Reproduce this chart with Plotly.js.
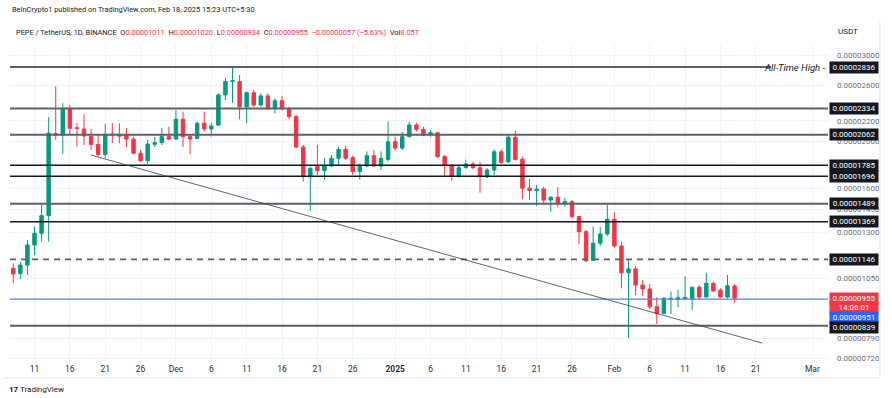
<!DOCTYPE html>
<html><head><meta charset="utf-8">
<script src="https://cdn.plot.ly/plotly-3.0.1.min.js"></script>
<style>html,body{margin:0;padding:0;background:#fff}#chart{width:892px;height:398px}</style>
</head><body><div id="chart"></div>
<script>
// Prices in units of 1e-8 USDT, daily candles starting 2024-11-08
const startDate = '2024-11-08';
const openP = [1099,1073,1116,1227,1296,1408,2073,2059,2333,2130,2118,2045,1969,1878,2068,2059,2059,2019,1890,1824,1971,1986,2043,2020,2217,2043,2026,2176,2118,2158,2486,2648,2648,2352,2513,2371,2475,2333,2420,2333,2245,1945,1692,1774,1741,1779,1845,1924,1851,1733,1779,1868,1779,1836,1995,1936,2043,2158,2115,2068,2080,1859,1784,1693,1765,1796,1765,1690,1746,1902,1815,2037,1836,1603,1585,1596,1516,1536,1492,1504,1402,1306,1141,1237,1292,1385,1221,1076,1096,1016,997,917,888,950,950,952,950,1005,960,1024,992,960,1011];
const highP = [1125,1134,1256,1337,1481,2240,2590,2390,2371,2175,2270,2118,2059,2168,2178,2175,2128,2043,1918,2011,2040,2128,2141,2316,2298,2059,2195,2298,2182,2506,2698,2827,2731,2525,2545,2506,2506,2447,2475,2352,2262,1964,1774,1964,1845,1874,1948,1955,1868,1802,1906,1918,1906,2195,2043,2091,2195,2182,2141,2108,2091,1874,1796,1788,1833,1815,1815,1763,1924,1924,2059,2101,1859,1674,1627,1614,1545,1610,1530,1516,1406,1316,1338,1334,1481,1431,1246,1147,1111,1040,1021,959,960,985,995,1060,1008,1016,1077,1032,1000,1065,1020];
const lowP = [1024,1045,1065,1170,1246,1246,2011,1883,2059,1948,1964,1918,1859,1845,1983,1980,1945,1880,1815,1796,1945,1964,2011,2011,1948,1880,2020,2091,2043,2148,2428,2396,2217,2176,2352,2352,2316,2280,2308,2217,1936,1653,1442,1705,1666,1774,1788,1830,1705,1668,1768,1774,1746,1815,1912,1918,2037,2091,2050,2043,1850,1697,1660,1685,1760,1753,1568,1681,1705,1796,1802,1824,1521,1516,1474,1497,1435,1464,1469,1391,1233,1132,1137,1221,1280,1208,1000,791,969,965,906,846,886,886,915,947,903,947,959,984,959,954,934];
const closeP = [1070,1116,1227,1296,1408,2077,2059,2333,2125,2125,2050,1969,1878,2064,2059,2050,2019,1890,1824,1973,1986,2043,2020,2217,2043,2020,2176,2118,2148,2486,2648,2657,2352,2513,2371,2475,2333,2420,2333,2245,1945,1692,1760,1741,1779,1845,1924,1845,1733,1779,1868,1779,1845,1995,1936,2043,2158,2115,2059,2080,1859,1784,1693,1765,1796,1765,1692,1746,1902,1808,2037,1836,1603,1585,1596,1516,1536,1492,1504,1402,1306,1139,1237,1292,1385,1221,1076,1096,1016,997,917,888,954,954,957,958,1005,960,1024,988,960,1012,955];

// Horizontal levels (units of 1e-8)
const grayLevels = [2836, 2334, 2062, 1489, 839];
const blackLevels = [1785, 1696, 1369];
const dashedLevel = 1146;
const blueLevel = 951;
const athLevel = 2836;
const boxedLevels = [2836, 2334, 2062, 1785, 1696, 1489, 1369, 1146];
// Trendline drawing anchors
const trendX = ['2024-11-18 23:00', '2025-02-21 22:00'];
const trendY = [1874, 773];
// Axis ticks
const yTicks = [3000, 2600, 2200, 2000, 1600, 1450, 1300, 1050, 790, 720];
const xTickDates = ['2024-11-11','2024-11-16','2024-11-21','2024-11-26','2024-12-01','2024-12-06','2024-12-11','2024-12-16','2024-12-21','2024-12-26','2025-01-01','2025-01-06','2025-01-11','2025-01-16','2025-01-21','2025-01-26','2025-02-01','2025-02-06','2025-02-11','2025-02-16','2025-02-21','2025-03-01'];
const xTickText = ['11','16','21','26','Dec','6','11','16','21','26','<b>2025</b>','6','11','16','21','26','Feb','6','11','16','21','Mar'];
const volumeText = '8.05T';
const countdown = '14:06:01';

const S = 1e-8;
const sc = a => a.map(v => v * S);
const fmt = v => (v * S).toFixed(8);
const dates = [];
{
  const d0 = new Date(startDate + 'T00:00:00Z');
  for (let i = 0; i < openP.length; i++) {
    const d = new Date(d0.getTime() + i * 86400000);
    dates.push(d.toISOString().slice(0, 10));
  }
}
const xLeft = '2024-11-07 12:48', xRight = '2025-03-03 05:00', athEnd = '2025-02-23 04:00';
const RED = '#f23645', GREEN = '#089981';
const FONT = 'Roboto, Liberation Sans, sans-serif';

const traces = [{
  type: 'candlestick', x: dates,
  open: sc(openP), high: sc(highP), low: sc(lowP), close: sc(closeP),
  increasing: {line: {color: GREEN, width: 1}, fillcolor: GREEN},
  decreasing: {line: {color: RED, width: 1}, fillcolor: RED},
  whiskerwidth: 0, hoverinfo: 'skip', showlegend: false
}];
const hline = (lvl, color, width, dash, x1) => ({
  type: 'scatter', mode: 'lines', x: [xLeft, x1 || xRight], y: [lvl * S, lvl * S],
  line: {color: color, width: width, dash: dash || 'solid'}, hoverinfo: 'skip', showlegend: false
});
grayLevels.forEach(l => traces.push(hline(l, '#5d606b', 2, 'solid', l === athLevel ? athEnd : null)));
blackLevels.forEach(l => traces.push(hline(l, '#131722', 1.5)));
traces.push(hline(dashedLevel, '#5d606b', 1.8, '6px,5px'));
traces.push(hline(blueLevel, '#5b7ee5', 1.2));
traces.push({type: 'scatter', mode: 'lines', x: trendX, y: sc(trendY),
  line: {color: '#3a3d47', width: 0.8}, hoverinfo: 'skip', showlegend: false});

const lg = v => Math.log10(v * S);
const BOXW = 46;
const box = (text, yv, bg, yshift) => ({xref: 'paper', yref: 'y', x: 1, y: yv, xanchor: 'left', xshift: 1,
  yshift: yshift || 0, width: BOXW, align: 'center',
  text: text, showarrow: false, bgcolor: bg, borderpad: 1,
  font: {family: FONT, size: 8, color: '#ffffff'}});
const ann = [];
boxedLevels.forEach(l => ann.push(box(fmt(l), lg(l), '#131722')));
const last = closeP.length - 1;
ann.push(box(countdown, lg(closeP[last]), RED, -9));
ann.push(box(fmt(closeP[last]), lg(closeP[last]), RED, 0));
ann.push(box(fmt(blueLevel), lg(blueLevel), '#2962ff', -18.5));
ann.push(box(fmt(839), lg(839), '#131722', -2));
ann.push({xref: 'paper', yref: 'y', x: 1, y: lg(athLevel), xanchor: 'right', xshift: -1,
  text: '<i>All-Time High</i> -', showarrow: false,
  font: {family: FONT, size: 9.5, color: '#131722'}});
// header
const chg = closeP[last] - closeP[last - 1];
const pct = chg / closeP[last - 1] * 100;
const r = t => '<span style="color:' + RED + '">' + t + '</span>';
const sign = chg < 0 ? '\u2212' : '+';
ann.push({xref: 'paper', yref: 'paper', x: 0, y: 1.107, xanchor: 'left', yanchor: 'middle', showarrow: false,
  text: 'BeInCrypto1 published on TradingView.com, Feb 18, 2025 15:23 UTC+5:30',
  font: {family: FONT, size: 7.4, color: '#131722'}});
ann.push({xref: 'paper', yref: 'paper', x: 0.005, y: 1.035, xanchor: 'left', yanchor: 'middle', showarrow: false,
  text: 'PEPE / TetherUS, 1D, BINANCE&nbsp;&nbsp;O' + r(fmt(openP[last])) + '&nbsp;&nbsp;H' + r(fmt(highP[last])) +
    '&nbsp;&nbsp;L' + r(fmt(lowP[last])) + '&nbsp;&nbsp;C' + r(fmt(closeP[last])) + '&nbsp;&nbsp;' +
    r(sign + fmt(Math.abs(chg)) + ' (' + sign + Math.abs(pct).toFixed(2) + '%)') + '&nbsp;&nbsp;Vol' + r(volumeText),
  font: {family: FONT, size: 7.4, color: '#131722'}});
ann.push({xref: 'paper', yref: 'paper', x: 1.0244, y: 1.038, xanchor: 'center', yanchor: 'middle', showarrow: false,
  text: 'USDT', font: {family: FONT, size: 8, color: '#131722'}});
ann.push({xref: 'paper', yref: 'paper', x: -0.004, y: -0.088, xanchor: 'left', yanchor: 'middle', showarrow: false,
  text: '<b>17</b> TradingView', font: {family: FONT, size: 8, color: '#131722'}});

const layout = {
  width: 892, height: 398, margin: {l: 10, r: 64, t: 44, b: 36},
  paper_bgcolor: '#ffffff', plot_bgcolor: '#ffffff', showlegend: false,
  font: {family: FONT, size: 8, color: '#131722'},
  xaxis: {type: 'date', range: [xLeft, xRight], rangeslider: {visible: false},
    tickmode: 'array', tickvals: xTickDates, ticktext: xTickText, ticks: '',
    showgrid: true, gridcolor: '#f0f3fa', gridwidth: 1, zeroline: false, showline: false,
    tickfont: {size: 8.5, color: '#2a2e39'}, fixedrange: true},
  yaxis: {type: 'log', side: 'right', range: [-5.15056, -4.50025],
    tickmode: 'array', tickvals: sc(yTicks), ticktext: yTicks.map(fmt), ticks: '',
    showgrid: true, gridcolor: '#f0f3fa', gridwidth: 1, zeroline: false, showline: false,
    tickfont: {size: 8, color: '#6a6d78'}, ticklabelstandoff: 8, fixedrange: true},
  annotations: ann,
  shapes: [
    {type: 'line', xref: 'paper', yref: 'paper', x0: 1.0635, x1: 1.0635, y0: -0.05, y1: 1.07, line: {color: '#e0e3eb', width: 1}},
    {type: 'line', xref: 'paper', yref: 'paper', x0: -0.007, x1: 1.0635, y0: -0.05, y1: -0.05, line: {color: '#e0e3eb', width: 1}}
  ]
};
Plotly.newPlot('chart', traces, layout, {displayModeBar: false, staticPlot: true});
</script></body></html>
